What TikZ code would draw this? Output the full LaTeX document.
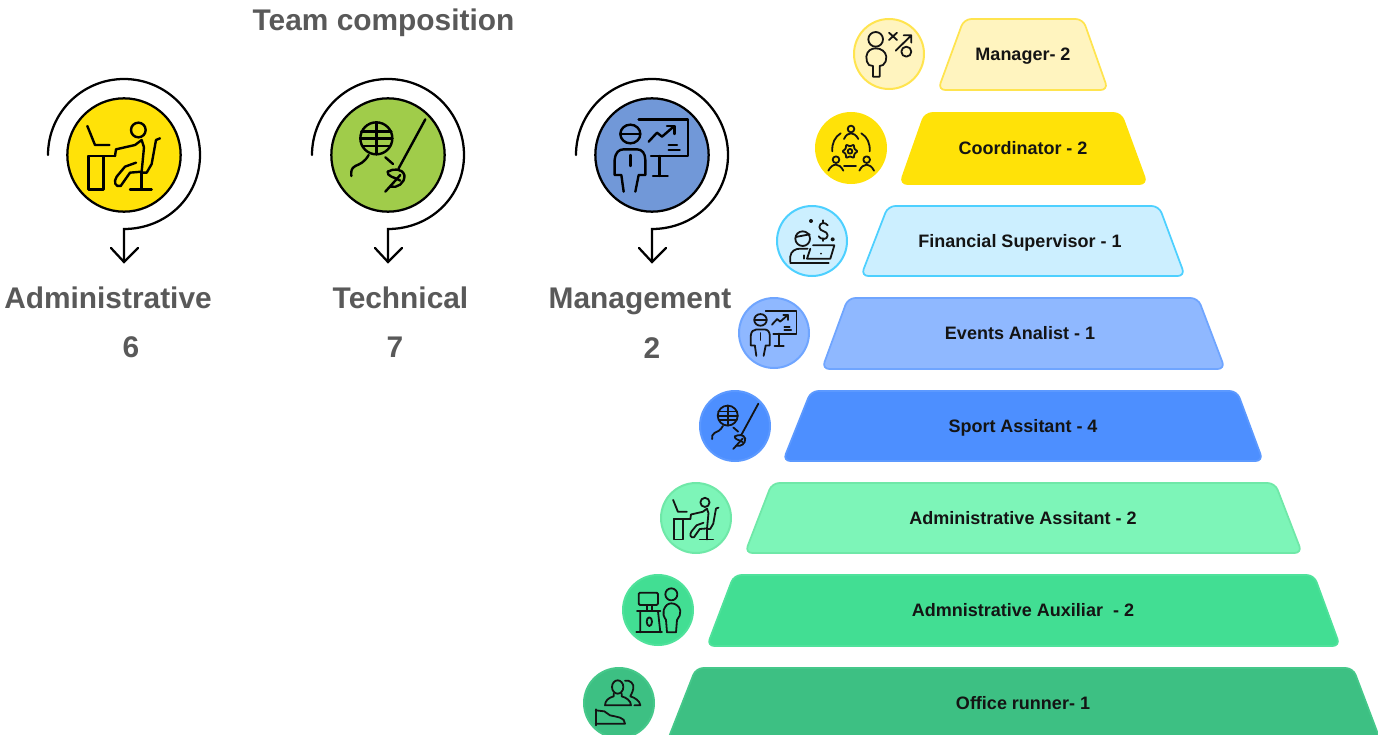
\documentclass[tikz,border=0pt]{standalone}
\usepackage{fontspec}
\setmainfont{Liberation Sans}
\definecolor{gtext}{HTML}{595959}
\definecolor{ink}{HTML}{141414}
\definecolor{bigY}{HTML}{FFE208}
\definecolor{bigG}{HTML}{A0CC4A}
\definecolor{bigB}{HTML}{7198D8}
\definecolor{mF}{HTML}{FFF4BF}\definecolor{mS}{HTML}{FFE44F}
\definecolor{cF}{HTML}{FFE208}\definecolor{cS}{HTML}{FFE208}
\definecolor{fF}{HTML}{CCEFFF}\definecolor{fS}{HTML}{4DD0FF}
\definecolor{eF}{HTML}{8FB8FF}\definecolor{eS}{HTML}{6FA5FF}
\definecolor{sF}{HTML}{4D8FFF}\definecolor{sS}{HTML}{5C99FF}
\definecolor{aF}{HTML}{7DF5B8}\definecolor{aS}{HTML}{6FE8A8}
\definecolor{xF}{HTML}{42DE93}\definecolor{xS}{HTML}{4FE29B}
\definecolor{oF}{HTML}{3DC083}\definecolor{oS}{HTML}{45C88A}
\tikzset{
  x=0.75pt,y=-0.75pt,
  headline/.style={font=\fontsize{22.4pt}{26pt}\selectfont\bfseries,text=gtext,inner sep=0pt,anchor=base},
  tierlabel/.style={font=\fontsize{13.5pt}{16pt}\selectfont\bfseries,text=ink,inner sep=0pt,anchor=base},
  bigdisc/.style={circle,draw=black,line width=1.7pt,minimum size=85pt,inner sep=0pt},
  smalldisc/.style={circle,line width=1.5pt,minimum size=52.5pt,inner sep=0pt},
  tier/.style={line width=1.3pt,rounded corners=5.5pt},
  iconbig/.style={scale=1/3,line width=1.8pt,draw=black,line cap=round,line join=round},
  iconsmall/.style={scale=0.208,line width=1.35pt,draw=ink,line cap=round,line join=round},
  icontiny/.style={scale=1/3,line width=1.35pt,draw=ink,line cap=round,line join=round},
  pics/spiralarrow/.style={code={
    \draw[line width=1.7pt,draw=black,line cap=round,line join=miter]
      (-76,0) .. controls (-76,-42) and (-42,-76) .. (0,-76)
      .. controls (42,-76) and (76,-42) .. (76,0)
      .. controls (76,42) and (42,74) .. (0,74) -- (0,107);
    \draw[line width=1.7pt,draw=black,line cap=round,line join=miter]
      (-13,93) -- (0,107) -- (14,93);
  }},
  pics/deskicon/.style={code={\begin{scope}[shift={(-372,-285)}]
    \draw (262,198)--(285,255)--(328,255);
    \draw (265,288) rectangle (310,388);
    \draw (265,288)--(345,288);
    \draw (415,210) circle [radius=22];
    \draw (345,288)--(348,268)--(405,255)--(425,240)--(432,262)--(425,335)--(390,338)--(362,378)..controls (345,382) and (340,365) ..(350,350)--(375,320)--(408,308);
    \draw (480,235)--(468,240)--(455,312)--(440,338)--(425,338);
    \draw (425,338)--(425,388);
    \draw (390,388)--(455,388);
  \end{scope}}},
  pics/fencericon/.style={code={\begin{scope}[shift={(-293,-285)}]
    \draw (258,235) circle [radius=48];
    \draw (258,187)--(258,283);
    \draw (213,215)--(303,215) (210,235)--(306,235) (216,258)--(300,258);
    \draw (235,285)..controls (222,308) and (208,312) ..(195,318)..controls (182,325) and (182,335)..(183,348);
    \draw (285,292)--(308,312);
    \draw (405,178)--(325,325);
    \draw (285,395)--(330,345);
    \draw (292,335)..controls (310,325) and (335,325)..(342,345)..controls (345,370) and (320,385)..(300,380);
    \draw (292,335)..controls (290,350) and (310,350)..(330,362);
  \end{scope}}},
  pics/presenticon/.style={code={\begin{scope}[shift={(-275,-285)}]
    \draw (210,222) circle [x radius=30,y radius=28];
    \draw (182,222)--(238,222);
    \draw (235,178)--(383,178)--(383,288)--(272,288);
    \draw (298,288)--(298,348) (278,348)--(322,348);
    \draw (265,245)--(290,218)--(305,230)--(342,198);
    \draw (320,198)--(342,198)--(342,222);
    \draw (325,255)--(350,255) (325,270)--(358,270);
    \draw (190,395)--(183,345)--(163,345)--(163,300)..controls (165,278) and (175,268)..(190,268)--(230,268)..controls (245,268) and (255,280)..(255,300)--(255,345)--(235,345)--(225,395);
    \draw (210,285)--(210,318);
  \end{scope}}},
  pics/manageicon/.style={code={\begin{scope}[shift={(-358,-132)}]
    \draw (318,88) circle [radius=22];
    \draw (310,200)--(310,168)--(298,165)..controls (292,160) and (290,150)..(290,140)..controls (292,122) and (305,115)..(318,115)..controls (335,115) and (348,125)..(350,140)..controls (350,150) and (348,160)..(340,165)--(330,168)--(330,200)--cycle;
    \draw (358,68)--(382,90) (382,68)--(358,90);
    \draw (378,122)--(425,76) (402,76)--(425,76)--(425,98);
    \draw (410,125) circle [radius=15];
  \end{scope}}},
  pics/coordicon/.style={code={\begin{scope}[shift={(-243,-412)}]
    \draw (243,355) circle [radius=10];
    \draw (222,385)..controls (228,372) and (236,368)..(243,368)..controls (250,368) and (258,372)..(265,385);
    \draw (198,447) circle [radius=10];
    \draw (175,480)..controls (181,468) and (190,462)..(198,462)..controls (206,462) and (214,468)..(220,480);
    \draw (290,447) circle [radius=10];
    \draw (268,480)..controls (274,468) and (282,462)..(290,462)..controls (298,462) and (306,468)..(312,480);
    \draw (212,368)..controls (195,378) and (185,398)..(187,422);
    \draw (274,368)..controls (291,378) and (301,398)..(299,422);
    \draw (222,465)--(258,465);
    \draw[shift={(240,422)},rounded corners=0.6pt] (0:23)--(30:15)--(60:23)--(90:15)--(120:23)--(150:15)--(180:23)--(210:15)--(240:23)--(270:15)--(300:23)--(330:15)--cycle;
    \draw (240,422) circle [radius=7];
  \end{scope}}},
  pics/financeicon/.style={code={\begin{scope}[shift={(-125,-692)}]
    \draw (97,685) circle [radius=22];
    \draw (76,680)--(118,672);
    \draw (60,755)--(60,738)..controls (62,722) and (75,715)..(90,715)--(112,715);
    \draw (100,735)--(100,745);
    \draw (128,705)--(192,705)--(180,745)--(110,745)--(120,715);
    \draw (60,758)--(175,758);
    \draw (172,645)..controls (165,635) and (148,635)..(147,650)..controls (147,665) and (172,660)..(172,675)..controls (172,690) and (150,688)..(145,678);
    \draw (159,630)--(159,638) (159,684)--(159,692);
    \fill[ink] (122,632) circle [radius=6];
    \fill[ink] (187,687) circle [radius=6];
    \fill[ink] (152,730) circle [radius=3];
  \end{scope}}},
  pics/auxicon/.style={code={\begin{scope}[shift={(-248,-120)}]
    \draw[rounded corners=1pt] (190,68) rectangle (248,105);
    \draw (215,105)--(215,122) (230,105)--(230,122);
    \draw (185,124)--(255,124);
    \draw (195,124)--(195,187) (248,124)--(255,187);
    \draw (183,187)--(260,187);
    \draw (222,155) circle [x radius=8,y radius=13];
    \draw (288,73) circle [radius=18];
    \draw (275,187)--(272,150)..controls (265,140) and (262,130)..(265,120)..controls (270,105) and (280,100)..(288,100)..controls (300,100) and (312,108)..(315,122)..controls (316,132) and (312,142)..(305,150)--(302,187)--cycle;
  \end{scope}}},
  pics/runnericon/.style={code={\begin{scope}[shift={(-132,-398)}]
    \draw (128,350) circle [x radius=17,y radius=20];
    \draw (116,370)--(116,378)..controls (100,382) and (90,392)..(90,405)--(168,405)..controls (168,392) and (155,382)..(140,378)--(140,370);
    \draw (150,331)..controls (165,328) and (178,340)..(175,355)..controls (172,368) and (168,372)..(166,378)..controls (180,382) and (195,392)..(196,405)--(178,405);
    \draw (62,417)--(62,465);
    \draw (62,420)--(88,423)--(105,435)..controls (125,440) and (150,440)..(150,460)--(62,460);
  \end{scope}}}
}
\begin{document}
\begin{tikzpicture}
\clip (0,0) rectangle (1378,735);
% left column
\node[headline] (title) at (383.5,31) {Team composition};

\foreach \cx/\col/\ic/\nm in {124/bigY/deskicon/adm,388/bigG/fencericon/tec,652/bigB/presenticon/mgt}{
  \node[bigdisc,fill=\col] (disc\nm) at (\cx,155) {};
  \pic[scale=1] at (disc\nm.center) {spiralarrow};
  \pic[iconbig] at (disc\nm.center) {\ic};
}
\node[headline] (ladm) at (108,308.5) {Administrative};
\node[headline] (ltec) at (400.5,308.5) {Technical};
\node[headline] (lmgt) at (640,308.5) {Management};
\node[headline] (nadm) at (131,357.5) {6};
\node[headline] (ntec) at (395,357.5) {7};
\node[headline] (nmgt) at (652,358.5) {2};

% tiers
\path[tier,fill=mF,draw=mS] (964,19) -- (1083,19) -- (1108,90) -- (938,90) -- cycle;
\path[tier,fill=cF,draw=cS] (925,113) -- (1121,113) -- (1147,184) -- (900,184) -- cycle;
\path[tier,fill=fF,draw=fS] (888,206) -- (1159,206) -- (1185,276) -- (861,276) -- cycle;
\path[tier,fill=eF,draw=eS] (848,298) -- (1198,298) -- (1225,369) -- (822,369) -- cycle;
\path[tier,fill=sF,draw=sS] (811,391) -- (1237,391) -- (1263,461) -- (783,461) -- cycle;
\path[tier,fill=aF,draw=aS] (772,483) -- (1275,483) -- (1302,553) -- (745,553) -- cycle;
\path[tier,fill=xF,draw=xS] (734,575) -- (1314,575) -- (1340,646) -- (707,646) -- cycle;
\path[tier,fill=oF,draw=oS] (696,668) -- (1353,668) -- (1381,742) -- (667,742) -- cycle;

\node[tierlabel] (t1) at (1023,60.5) {Manager- 2};
\node[tierlabel] (t2) at (1023,154.5) {Coordinator - 2};
\node[tierlabel] (t3) at (1020,247) {Financial Supervisor - 1};
\node[tierlabel] (t4) at (1020,339.5) {Events Analist - 1};
\node[tierlabel] (t5) at (1023,432.5) {Sport Assitant - 4};
\node[tierlabel] (t6) at (1023,524.5) {Administrative Assitant - 2};
\node[tierlabel] (t7) at (1023,616.5) {Admnistrative Auxiliar~ - 2};
\node[tierlabel] (t8) at (1023,709.5) {Office runner- 1};

% tier discs
\node[smalldisc,fill=mF,draw=mS] (c1) at (889,54) {};
\node[smalldisc,fill=cF,draw=cS] (c2) at (851,148) {};
\node[smalldisc,fill=fF,draw=fS] (c3) at (812,241) {};
\node[smalldisc,fill=eF,draw=eS] (c4) at (774,333) {};
\node[smalldisc,fill=sF,draw=sS] (c5) at (735,426) {};
\node[smalldisc,fill=aF,draw=aS] (c6) at (696,518) {};
\node[smalldisc,fill=xF,draw=xS] (c7) at (658,610) {};
\node[smalldisc,fill=oF,draw=oS] (c8) at (619,703) {};
\pic[icontiny] at (c1.center) {manageicon};
\pic[icontiny] at (c2.center) {coordicon};
\pic[icontiny] at (c3.center) {financeicon};
\pic[iconsmall] at (c4.center) {presenticon};
\pic[iconsmall] at (c5.center) {fencericon};
\pic[iconsmall] at (c6.center) {deskicon};
\pic[icontiny] at (c7.center) {auxicon};
\pic[icontiny] at (c8.center) {runnericon};
\end{tikzpicture}
\end{document}
